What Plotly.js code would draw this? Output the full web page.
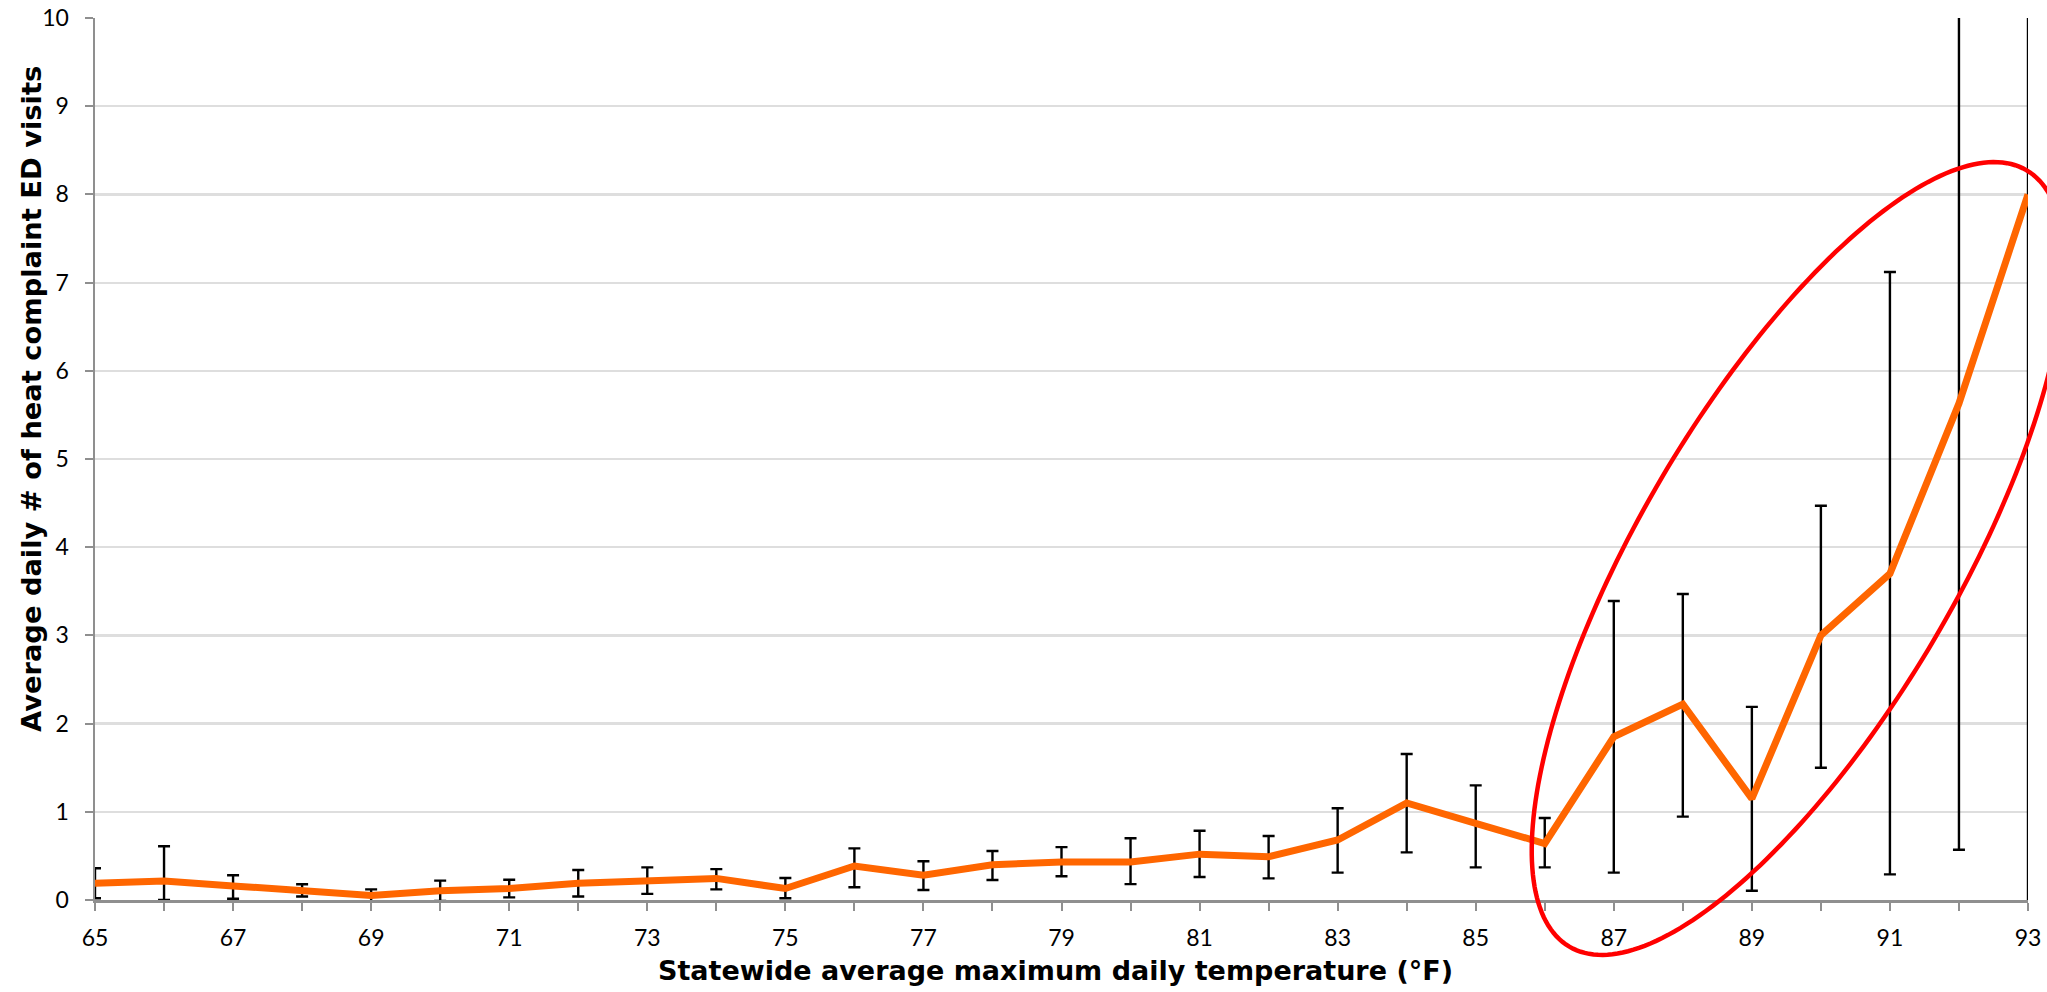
<!DOCTYPE html>
<html>
<head>
<meta charset="utf-8">
<script src="https://cdn.plot.ly/plotly-3.0.1.min.js"></script>
<style>
  html, body { margin: 0; padding: 0; background: #ffffff; }
  #chart { width: 2047px; height: 992px; }
</style>
</head>
<body>
<div id="chart"></div>
<script>
// ---- Data ----
const temperatures = [65, 66, 67, 68, 69, 70, 71, 72, 73, 74, 75, 76, 77, 78, 79,
                      80, 81, 82, 83, 84, 85, 86, 87, 88, 89, 90, 91, 92, 93];
const avgVisits    = [0.19, 0.215, 0.16, 0.113, 0.05, 0.105, 0.13, 0.19, 0.22, 0.245, 0.13, 0.385, 0.28, 0.40, 0.43,
                      0.43, 0.52, 0.49, 0.68, 1.10, 0.87, 0.64, 1.85, 2.22, 1.15, 3.00, 3.70, 5.63, 8.00];
const upperBound   = [0.36, 0.61, 0.28, 0.178, 0.12, 0.22, 0.23, 0.34, 0.37, 0.35, 0.25, 0.585, 0.44, 0.555, 0.60,
                      0.70, 0.785, 0.725, 1.04, 1.655, 1.30, 0.93, 3.39, 3.47, 2.19, 4.47, 7.12, 10.7, 16.5];
const lowerBound   = [0.02, 0.0, 0.015, 0.04, -0.02, -0.01, 0.03, 0.04, 0.07, 0.12, 0.02, 0.145, 0.113, 0.227, 0.27,
                      0.18, 0.26, 0.245, 0.31, 0.54, 0.37, 0.37, 0.31, 0.945, 0.105, 1.50, 0.29, 0.57, -0.5];
const xTickStart = 65;
const yTickStep = 1;

const xTitle = "Statewide average maximum daily temperature (°F)";
const yTitle = "Average daily # of heat complaint ED visits";

// ---- Layout geometry ----
const W = 2047, H = 992;
const M = { l: 95, r: 19, t: 18, b: 92 };
const plotW = W - M.l - M.r, plotH = H - M.t - M.b;

const errPlus = avgVisits.map((v, i) => upperBound[i] - v);
const errMinus = avgVisits.map((v, i) => v - lowerBound[i]);

const FONT = "Lato, 'Open Sans', sans-serif";
const TITLE_FONT = "'DejaVu Sans', Lato, sans-serif";

const errTrace = {
  x: temperatures, y: avgVisits, type: 'scatter', mode: 'markers',
  marker: { size: 1, opacity: 0 },
  error_y: { type: 'data', symmetric: false, array: errPlus, arrayminus: errMinus,
             color: '#000000', thickness: 2.4, width: 6 },
  hoverinfo: 'skip', showlegend: false
};
const lineTrace = {
  x: temperatures, y: avgVisits, type: 'scatter', mode: 'lines',
  line: { color: '#FF6600', width: 7 },
  showlegend: false
};

// Red highlight ellipse (annotation), defined in pixels, converted to paper coords
const ell = { cx: 1798, cy: 558.5, a: 450.5, b: 158.4, angleDeg: 59.5 };
function ellipsePath(e) {
  const phi = e.angleDeg * Math.PI / 180;
  const n = 240;
  let d = '';
  for (let k = 0; k <= n; k++) {
    const t = 2 * Math.PI * k / n;
    const px = e.cx + e.a * Math.cos(t) * Math.cos(phi) + e.b * Math.sin(t) * Math.sin(phi);
    const py = e.cy - e.a * Math.cos(t) * Math.sin(phi) + e.b * Math.sin(t) * Math.cos(phi);
    const xp = (px - M.l) / plotW;
    const yp = (H - M.b - py) / plotH;
    d += (k === 0 ? 'M ' : ' L ') + xp.toFixed(5) + ',' + yp.toFixed(5);
  }
  return d + ' Z';
}

const layout = {
  width: W, height: H,
  margin: M,
  paper_bgcolor: '#ffffff', plot_bgcolor: '#ffffff',
  font: { family: FONT, color: '#000000', size: 22 },
  showlegend: false,
  xaxis: {
    range: [65, 93], tick0: xTickStart, dtick: 2,
    showgrid: false, zeroline: false,
    showline: true, linecolor: '#8f8f8f', linewidth: 2.5,
    ticks: 'outside', ticklen: 8, tickwidth: 2, tickcolor: '#8f8f8f',
    minor: { dtick: 1, ticks: 'outside', ticklen: 8, tickwidth: 2, tickcolor: '#8f8f8f', showgrid: false },
    tickfont: { family: FONT, size: 23, color: '#000000' },
    ticklabelstandoff: 8
  },
  yaxis: {
    range: [0, 10], dtick: yTickStep,
    showgrid: true, gridcolor: '#dedede', gridwidth: 2.2,
    zeroline: false,
    showline: true, linecolor: '#8f8f8f', linewidth: 2.5,
    ticks: 'outside', ticklen: 8, tickwidth: 2, tickcolor: '#8f8f8f',
    tickfont: { family: FONT, size: 23, color: '#000000' },
    ticklabelstandoff: 11
  },
  annotations: [{
    text: yTitle, xref: 'paper', yref: 'paper',
    x: (31 - M.l) / plotW, y: (H - M.b - 399) / plotH,
    xanchor: 'center', yanchor: 'middle', textangle: -90, showarrow: false,
    font: { family: TITLE_FONT, size: 27.3, color: '#000000', weight: 'bold' }
  }, {
    text: xTitle, xref: 'paper', yref: 'paper',
    x: (1055 - M.l) / plotW, y: (H - M.b - 971) / plotH,
    xanchor: 'center', yanchor: 'middle', showarrow: false,
    font: { family: TITLE_FONT, size: 27, color: '#000000', weight: 'bold' }
  }],
  shapes: [{
    type: 'path', xref: 'paper', yref: 'paper', layer: 'above',
    path: ellipsePath(ell),
    line: { color: '#FF0000', width: 4.5 }
  }]
};

Plotly.newPlot('chart', [errTrace, lineTrace], layout, { staticPlot: true, displayModeBar: false });
</script>
</body>
</html>
